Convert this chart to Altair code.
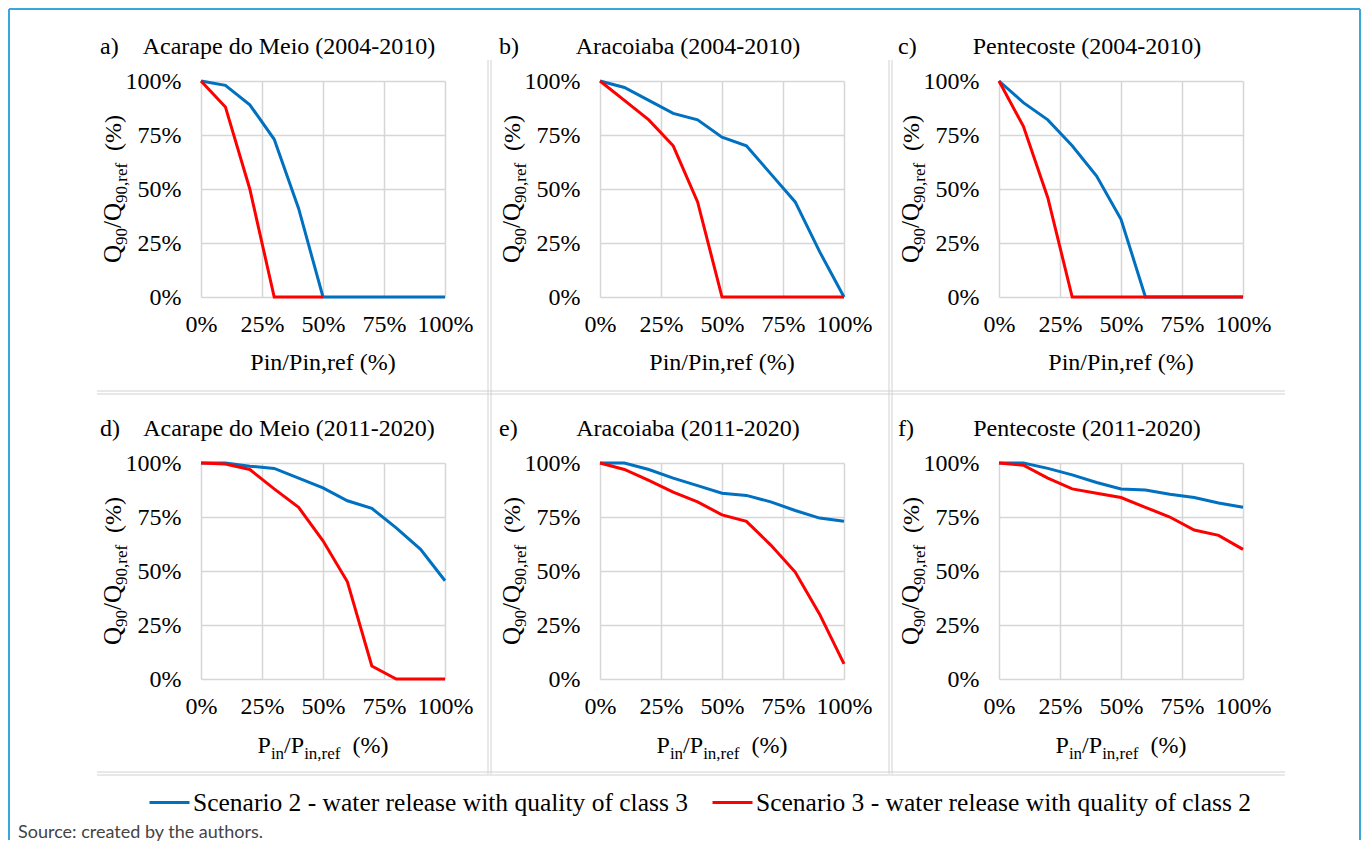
import altair as alt
import pandas as pd

# ---------------- data ----------------
x_pct = [0, 10, 20, 30, 40, 50, 60, 70, 80, 90, 100]
panel_ids = ["a", "b", "c", "d", "e", "f"]
panel_letters = ["a)", "b)", "c)", "d)", "e)", "f)"]
panel_titles = [
    "Acarape do Meio (2004-2010)",
    "Aracoiaba (2004-2010)",
    "Pentecoste (2004-2010)",
    "Acarape do Meio (2011-2020)",
    "Aracoiaba (2011-2020)",
    "Pentecoste (2011-2020)",
]
scenario_names = [
    "Scenario 2 - water release with quality of class 3",
    "Scenario 3 - water release with quality of class 2",
]
scenario_colors = ["#0070c0", "#ff0000"]

a_s2 = [100, 98, 89, 73, 41, 0, 0, 0, 0, 0, 0]
a_s3 = [100, 88, 50, 0, 0, 0, None, None, None, None, None]
b_s2 = [100, 97, 91, 85, 82, 74, 70, 57, 44, 21, 0]
b_s3 = [100, 91, 82, 70, 44, 0, 0, 0, 0, 0, 0]
c_s2 = [100, 90, 82, 70, 56, 36, 0, 0, 0, 0, 0]
c_s3 = [100, 79, 46, 0, 0, 0, 0, 0, 0, 0, 0]
d_s2 = [100, 100, 98.5, 97.5, 93, 88.5, 82.5, 79, 70, 60, 45.5]
d_s3 = [100, 99.5, 97, 88, 79.5, 64, 45, 6, 0, 0, 0]
e_s2 = [100, 100, 97, 93, 89.5, 86, 85, 82, 78, 74.5, 73]
e_s3 = [100, 97, 92, 86.5, 82, 76, 73, 62, 49.5, 30, 7]
f_s2 = [100, 100, 97.5, 94.5, 91, 88, 87.5, 85.5, 84, 81.5, 79.5]
f_s3 = [100, 99, 93, 88, 86, 84, 79.5, 75, 69, 66.5, 60]

tick_values = [0, 0.25, 0.5, 0.75, 1.0]
x_title_top = "Pin/Pin,ref (%)"
source_text = "Source: created by the authors."

series = {
    "a": (a_s2, a_s3), "b": (b_s2, b_s3), "c": (c_s2, c_s3),
    "d": (d_s2, d_s3), "e": (e_s2, e_s3), "f": (f_s2, f_s3),
}

rows = []
for pid in panel_ids:
    for name, vals in zip(scenario_names, series[pid]):
        for xv, yv in zip(x_pct, vals):
            rows.append({"panel": pid, "scenario": name, "x": xv / 100,
                         "y": (yv / 100) if yv is not None else None})
df = pd.DataFrame(rows)

# ---------------- styling ----------------
SERIF = "Liberation Serif"
W, H = 244, 216
HSP, VSP = 155, 166
GRID = "#d6d6d6"
FRAME = "#3aa7da"
SEP = "#d2d2d2"
# page origin of panel a's plot area (for decorations)
OX, OY = 201, 81

CW = {"Q": .722, "9": .5, "0": .5, "/": .278, ",": .25, "r": .333, "e": .444,
      "f": .333, " ": .25, "(": .333, "%": .833, ")": .333, "P": .556, "i": .278,
      "n": .5}


def text_w(s, size):
    return sum(CW.get(c, .5) for c in s) * size


one = pd.DataFrame({"k": [0]})


def text_layer(t, x, y, size=24, align="left", baseline="alphabetic", angle=0,
               dx=0, dy=0, font=SERIF, color="black"):
    return alt.Chart(pd.DataFrame({"t": [t]})).mark_text(
        font=font, fontSize=size, align=align, baseline=baseline, angle=angle,
        dx=dx, dy=dy, color=color
    ).encode(x=alt.value(x), y=alt.value(y), text="t:N")


def composed(segments, x, y, angle):
    # segments: (text, size, dy, gap_before)
    total = sum(text_w(t, s) + g for t, s, d, g in segments)
    pos = -total / 2
    layers = []
    for t, s, d, g in segments:
        pos += g
        layers.append(text_layer(t, x, y, size=s, angle=angle, dx=pos, dy=d))
        pos += text_w(t, s)
    return layers


def rule(x1, y1, x2, y2, color, width):
    return alt.Chart(one).mark_rule(color=color, strokeWidth=width).encode(
        x=alt.value(x1 - OX), x2=alt.value(x2 - OX),
        y=alt.value(y1 - OY), y2=alt.value(y2 - OY))


LEG_FONT = 25.5
color_enc = alt.Color(
    "scenario:N",
    scale=alt.Scale(domain=scenario_names, range=scenario_colors),
    legend=alt.Legend(title=None, orient="none", direction="horizontal",
                      legendX=-53, legendY=700, labelFont=SERIF,
                      labelFontSize=LEG_FONT, labelColor="black", labelLimit=0,
                      symbolType="stroke", symbolStrokeWidth=3, symbolSize=1600,
                      columnPadding=18, labelOffset=2, padding=0),
)


def make_panel(i):
    pid = panel_ids[i]
    top = i < 3
    sub = df[df.panel == pid]
    x_enc = alt.X("x:Q", scale=alt.Scale(domain=[0, 1], nice=False),
                  axis=alt.Axis(values=tick_values, format=".0%", title=None))
    y_enc = alt.Y("y:Q", scale=alt.Scale(domain=[0, 1], nice=False),
                  axis=alt.Axis(values=tick_values, format=".0%", title=None))
    blue = alt.Chart(sub[sub.scenario == scenario_names[0]]).mark_line(
        strokeWidth=3).encode(x=x_enc, y=y_enc, color=color_enc)
    red = alt.Chart(sub[sub.scenario == scenario_names[1]]).mark_line(
        strokeWidth=3).encode(x=x_enc, y=y_enc, color=color_enc)

    layers = [blue, red]
    # panel title
    layers.append(text_layer(panel_letters[i], -101, -27))
    layers.append(text_layer(panel_titles[i], 88, -27, align="center"))
    # y title with subscripts
    layers += composed([("Q", 25, 0, 0), ("90", 17, 6, 0), ("/Q", 25, 0, 0),
                        ("90,ref", 17, 6, 0), ("(%)", 24, 0, 12)],
                       -80, H / 2, 270)
    # x title
    if top:
        layers.append(text_layer(x_title_top, W / 2, H + 73, align="center"))
    else:
        layers += composed([("P", 24, 0, 0), ("in", 17, 6, 0), ("/P", 24, 0, 0),
                            ("in,ref", 17, 6, 0), ("(%)", 24, 0, 12)],
                           W / 2, H + 74, 0)

    if i == 0:
        # outer frame
        layers += [
            rule(9, 9, 1360, 9, FRAME, 2),
            rule(9, 9, 9, 840, FRAME, 2),
            rule(1360, 9, 1360, 840, FRAME, 2),
        ]
        # panel separators
        for xs in (488, 491, 889, 892):
            layers.append(rule(xs, 60, xs, 774, SEP, 1))
        for ys in (391, 394, 772, 775):
            layers.append(rule(97, ys, 1285, ys, SEP, 1))
        # source note
        layers.append(text_layer(source_text, 18, 838, size=18, font="Lato",
                                 color="#444444", dx=-OX, dy=-OY))
    return alt.layer(*layers).properties(width=W, height=H)


chart = alt.concat(
    *[make_panel(i) for i in range(6)], columns=3,
    spacing={"row": VSP, "column": HSP}, bounds="flush"
).properties(
    padding=0
).configure_view(stroke=None).configure_axis(
    labelFont=SERIF, labelFontSize=24, labelColor="black", domain=False,
    ticks=False, grid=True, gridColor=GRID, gridWidth=1.5, labelFlush=False,
    labelOverlap=False, labelPadding=20
).configure_axisX(labelPadding=15).configure_legend(
    symbolType="stroke", symbolStrokeWidth=3, symbolSize=1600,
    labelFont=SERIF, labelFontSize=LEG_FONT, labelColor="black", labelLimit=0,
    columnPadding=18, labelOffset=2, padding=0
)
chart.config.style = {"guide-label": {"font": SERIF, "fontSize": LEG_FONT,
                                      "fill": "black"}}

chart.save("out.html", embed_options={"renderer": "svg", "actions": False})
